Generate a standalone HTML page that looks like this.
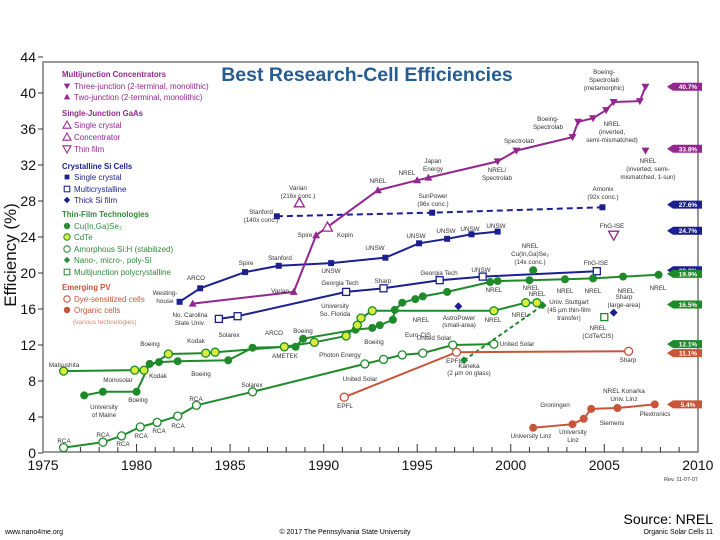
<!DOCTYPE html>
<html><head><meta charset="utf-8"><style>
html,body{margin:0;padding:0;background:#fff;}
svg{display:block;font-family:"Liberation Sans",sans-serif;}
</style></head><body>
<svg id="chart" width="720" height="540" viewBox="0 0 720 540" xmlns="http://www.w3.org/2000/svg">
<rect x="43" y="62" width="655" height="390" fill="#fff" stroke="#555" stroke-width="1.2"/>
<text x="367" y="81" text-anchor="middle" font-size="19.5" font-weight="bold" fill="#245d92">Best Research-Cell Efficiencies</text>
<text transform="translate(16,255) rotate(-90)" text-anchor="middle" font-size="17" fill="#111">Efficiency (%)</text>
<g id="axes"></g><g id="series"></g><g id="notes" font-size="6.3" fill="#333" text-anchor="middle"></g><g id="tags"></g>
<g font-size="8" id="legend"></g>
<text x="698" y="481" text-anchor="end" font-size="5.5" fill="#333">Rev. 11-07-07</text>
<text x="713" y="524" text-anchor="end" font-size="14" fill="#000">Source: NREL</text>
<text x="5" y="534" font-size="7" fill="#000">www.nano4me.org</text>
<text x="345" y="534" text-anchor="middle" font-size="7" fill="#000">© 2017 The Pennsylvania State University</text>
<text x="713" y="534" text-anchor="end" font-size="7" fill="#000">Organic Solar Cells 11</text>
</svg>
<script>
const yTicks=[0,4,8,12,16,20,24,28,32,36,40,44];
const xTicks=[1975,1980,1985,1990,1995,2000,2005,2010];
const mjYears=[1983.0,1988.4,1989.6,1992.9,1995.0,1995.6,1999.3,2000.3,2003.3,2003.6,2004.4,2005.1,2005.5,2006.9,2007.2];
const mjVals=[16.6,17.9,24.2,29.2,30.3,30.6,32.4,33.6,35.1,36.8,37.2,38.1,39.0,39.1,40.7];
const mjKinds=['tu','tu','tu','tu','tu','tu','td','td','td','td','td','td','td','td','td'];
const siYears=[1982.3,1983.4,1985.8,1987.6,1990.4,1993.3,1995.1,1996.6,1997.9,1999.3];
const siVals=[16.8,18.3,20.1,20.8,21.1,21.7,23.3,23.8,24.3,24.6];
const siConcYears=[1987.5,1995.8,2004.9];
const siConcVals=[26.3,26.7,27.3];
const mcYears=[1984.4,1985.4,1991.2,1993.2,1996.2,1998.5,2004.6];
const mcVals=[14.9,15.2,17.9,18.3,19.2,19.6,20.2];
const cigsYears=[1977.2,1978.2,1980.0,1980.7,1981.2,1982.2,1984.9,1986.2,1988.5,1988.9,1991.7,1992.6,1993.0,1993.7,1993.8,1994.2,1994.9,1995.3,1996.6,1998.9,1999.3,2001.0,2002.9,2004.4,2006.0,2007.9];
const cigsVals=[6.4,6.8,6.8,9.9,10.1,10.2,10.3,11.7,11.8,12.7,13.7,13.9,14.2,14.8,15.9,16.7,17.1,17.4,17.9,19.0,19.1,19.2,19.3,19.4,19.6,19.8];
const cdteYears=[1976.1,1979.9,1980.4,1981.7,1983.7,1984.2,1987.9,1989.5,1991.2,1991.8,1992.0,1992.6,1999.1,2000.8,2001.4];
const cdteVals=[9.1,9.2,9.2,11.0,11.1,11.2,11.8,12.3,13.0,14.2,15.0,15.8,15.8,16.7,16.7];
const asiYears=[1976.1,1978.2,1979.2,1980.2,1981.1,1982.2,1983.2,1986.2,1992.2,1993.2,1994.2,1995.3,1996.9,1999.1];
const asiVals=[0.6,1.2,1.9,2.9,3.4,4.1,5.3,6.8,9.9,10.4,10.9,11.1,12.0,12.1];
const siFilmYears=[1997.5,2001.7];
const siFilmVals=[10.3,16.4];
const dsscYears=[1991.1,1997.1,2006.3];
const dsscVals=[6.2,11.2,11.3];
const orgYears=[2001.2,2003.3,2003.9,2004.3,2005.7,2007.7];
const orgVals=[2.8,3.2,3.8,4.9,5.0,5.4];
const singleYears=[1988.7,1990.2,2005.5,1997.2,2005.5,2005.0,2001.2,2007.2];
const singleVals=[27.8,25.1,24.2,16.3,15.6,15.1,20.3,33.6];
const singleKinds=['tc','to','tdo','dm','dm','so','cf','td'];
const singleCols=['#93278f','#93278f','#93278f','#1b1f8f','#1b1f8f','#1e8a2a','#1e8a2a','#93278f'];
const tagVals=[40.7,33.8,27.6,24.7,20.3,19.9,16.5,12.1,11.1,5.4];
const tagLabels=['40.7%','33.8%','27.6%','24.7%','20.3%','19.9%','16.5%','12.1%','11.1%','5.4%'];
const tagCols=['#93278f','#93278f','#1b1f8f','#1b1f8f','#1b1f8f','#1e8a2a','#1e8a2a','#1e8a2a','#c8553a','#c8553a'];

const NS='http://www.w3.org/2000/svg';
const X=y=>43+(y-1975)*18.71;
const Y=v=>453-v*9;
function mk(tag,attrs,parent){const e=document.createElementNS(NS,tag);for(const k in attrs)e.setAttribute(k,attrs[k]);parent.appendChild(e);return e;}
const axes=document.getElementById('axes');
yTicks.forEach(t=>{
  const l=mk('line',{x1:38,x2:43,y1:Y(t),y2:Y(t),stroke:'#333'},axes);
  
  
  const tx=mk('text',{x:36,y:Y(t)+5,'text-anchor':'end','font-size':14,fill:'#111'},axes);
  tx.textContent=t;
  
  
});
for(let yr=1976;yr<2010;yr++){
  const l=mk('line',{x1:X(yr),x2:X(yr),y1:452,y2:yr%5===0?444:447,stroke:'#333'},axes);
  
  
}
xTicks.forEach(t=>{
  const tx=mk('text',{x:X(t),y:470,'text-anchor':'middle','font-size':14,fill:'#111'},axes);
  tx.textContent=t;
  
  
});
const S=document.getElementById('series');
function marker(kind,x,y,col,fill,g){
  let e;
  if(kind==='tu')e=mk('path',{d:`M${x},${y-4}L${x+4},${y+3}L${x-4},${y+3}Z`,fill:col},g);
  else if(kind==='td')e=mk('path',{d:`M${x},${y+4}L${x+4},${y-3}L${x-4},${y-3}Z`,fill:col},g);
  else if(kind==='tc'||kind==='to')e=mk('path',{d:`M${x},${y-5}L${x+5},${y+4}L${x-5},${y+4}Z`,fill:'#fff',stroke:col,'stroke-width':1.3},g);
  else if(kind==='tdo')e=mk('path',{d:`M${x},${y+5}L${x+5},${y-4}L${x-5},${y-4}Z`,fill:'#fff',stroke:col,'stroke-width':1.3},g);
  else if(kind==='sq')e=mk('rect',{x:x-3,y:y-3,width:6,height:6,fill:col},g);
  else if(kind==='so')e=mk('rect',{x:x-3.5,y:y-3.5,width:7,height:7,fill:'#fff',stroke:col,'stroke-width':1.3},g);
  else if(kind==='dm')e=mk('path',{d:`M${x},${y-4}L${x+4},${y}L${x},${y+4}L${x-4},${y}Z`,fill:col},g);
  else if(kind==='cf')e=mk('circle',{cx:x,cy:y,r:4,fill:col},g);
  else e=mk('circle',{cx:x,cy:y,r:4,fill:fill,stroke:col,'stroke-width':1.3},g);
  
  
}
function series(name,years,vals,col,kind,fill,dash){
  const g=mk('g',{},S);
  
  
  const p=mk('polyline',{points:years.map((y,i)=>X(y)+','+Y(vals[i])).join(' '),fill:'none',stroke:col,'stroke-width':2,'stroke-dasharray':dash||''},g);
  
  
  years.forEach((y,i)=>marker(Array.isArray(kind)?kind[i]:kind,X(y),Y(vals[i]),col,fill,g));
}
series('si-concentrator-series',siConcYears,siConcVals,'#1b1f8f','sq','', '6,4');
series('thick-si-film-series',siFilmYears,siFilmVals,'#1e8a2a','dm','','4,3');
series('amorphous-si-series',asiYears,asiVals,'#1e8a2a','c','#fff');
series('dssc-series',dsscYears,dsscVals,'#c8553a','c','#fff');
series('organic-series',orgYears,orgVals,'#c8553a','cf');
series('multicrystalline-si-series',mcYears,mcVals,'#1b1f8f','so');
series('single-crystal-si-series',siYears,siVals,'#1b1f8f','sq');
series('cigs-series',cigsYears,cigsVals,'#1e8a2a','cf');
series('cdte-series',cdteYears,cdteVals,'#1e8a2a','c','#d9ee3c');
series('multijunction-series',mjYears,mjVals,'#93278f',mjKinds);
singleYears.forEach((y,i)=>{
  const g=mk('g',{},S);
  
  
  marker(singleKinds[i],X(y),Y(singleVals[i]),singleCols[i],'#fff',g);
});
const T=document.getElementById('tags');
tagVals.forEach((v,i)=>{
  const y=Y(v);
  const g=mk('g',{},T);
  
  
  mk('path',{d:`M667,${y}L673,${y-4}L702,${y-4}L702,${y+4}L673,${y+4}Z`,fill:tagCols[i]},g);
  const t=mk('text',{x:688,y:y+2.5,'text-anchor':'middle','font-size':6.5,'font-weight':'bold',fill:'#fff'},g);
  t.textContent=tagLabels[i];
});
const notes=[["Varian",298,190],["(216x conc.)",298,198],["Stanford",261,214],["(140x conc.)",261,222],["Spire",305,237],["Kopin",345,237],["ARCO",196,280],["Spire",246,265],["Stanford",280,260],["UNSW",331,273],["Varian",280,293],["Westing-",165,295],["house",165,303],["No. Carolina",190,317],["State Univ.",190,325],["Solarex",229,337],["Georgia Tech",340,285],["NREL",378,183],["NREL",407,175],["Japan",433,163],["Energy",433,171],["NREL/",497,172],["Spectrolab",497,180],["Spectrolab",519,143],["Boeing-",548,121],["Spectrolab",548,129],["Boeing-",604,74],["Spectrolab",604,82],["(metamorphic)",604,90],["NREL",612,126],["(inverted,",612,134],["semi-mismatched)",612,142],["NREL",648,163],["(inverted, semi-",648,171],["mismatched, 1-sun)",648,179],["SunPower",433,198],["(96x conc.)",433,206],["Amonix",603,191],["(92x conc.)",603,199],["FhG-ISE",612,228],["UNSW",375,250],["UNSW",416,238],["UNSW",446,233],["UNSW",470,231],["UNSW",496,228],["NREL",530,248],["Cu(In,Ga)Se₂",530,256],["(14x conc.)",530,264],["FhG-ISE",596,265],["Sharp",383,283],["Georgia Tech",439,275],["UNSW",481,272],["NREL",494,292],["NREL",531,290],["NREL",565,293],["NREL",593,293],["NREL",626,293],["NREL",658,290],["Sharp",624,299],["(large-area)",624,307],["University",335,308],["So. Florida",335,316],["Boeing",150,346],["Kodak",196,343],["ARCO",274,335],["Boeing",303,333],["Matsushita",64,367],["Monosolar",118,382],["Kodak",158,378],["Boeing",201,376],["AMETEK",285,358],["Photon Energy",340,357],["Boeing",138,402],["University",104,409],["of Maine",104,417],["Solarex",252,387],["RCA",196,401],["RCA",64,443],["RCA",103,437],["RCA",123,446],["RCA",141,438],["RCA",159,433],["RCA",178,428],["EPFL",345,408],["United Solar",360,381],["NREL",421,322],["Euro-CIS",418,337],["Boeing",374,344],["AstroPower",459,320],["(small-area)",459,327],["NREL",493,322],["NREL",520,317],["NREL",537,296],["Univ. Stuttgart",569,304],["(45 µm thin-film",569,312],["transfer)",569,320],["NREL",598,330],["(CdTe/CIS)",598,338],["United Solar",434,340],["United Solar",517,346],["EPFL",454,363],["Kaneka",469,368],["(2 µm on glass)",469,375],["Sharp",628,362],["NREL Konarka",624,393],["Univ. Linz",624,401],["Groningen",555,407],["Siemens",612,425],["Plextronics",655,416],["University Linz",531,438],["University",573,434],["Linz",573,442]];
const N=document.getElementById('notes');
notes.forEach(n=>{const t=mk('text',{x:n[1],y:n[2]},N);t.textContent=n[0];
  
  });
const L=document.getElementById('legend');
const leg=[["Multijunction Concentrators",74,'#93278f',1,null],["Three-junction (2-terminal, monolithic)",86,'#93278f',0,'td'],["Two-junction (2-terminal, monolithic)",97,'#93278f',0,'tu'],["Single-Junction GaAs",113,'#93278f',1,null],["Single crystal",125,'#93278f',0,'to'],["Concentrator",137,'#93278f',0,'tc'],["Thin film",149,'#93278f',0,'tdo'],["Crystalline Si Cells",166,'#1b1f8f',1,null],["Single crystal",177,'#1b1f8f',0,'sq'],["Multicrystalline",189,'#1b1f8f',0,'so'],["Thick Si film",200,'#1b1f8f',0,'dm'],["Thin-Film Technologies",214,'#2e8a3a',1,null],["Cu(In,Ga)Se₂",226,'#2e8a3a',0,'cf'],["CdTe",237,'#2e8a3a',0,'cy'],["Amorphous Si:H (stabilized)",249,'#2e8a3a',0,'c'],["Nano-, micro-, poly-Si",260,'#2e8a3a',0,'dm'],["Multijunction polycrystalline",272,'#2e8a3a',0,'so'],["Emerging PV",287,'#c8553a',1,null],["Dye-sensitized cells",299,'#c8553a',0,'c'],["Organic cells",310,'#c8553a',0,'cf'],["(various technologies)",321,'#d08a70',2,null]];
leg.forEach(r=>{
  const g=mk('g',{},L);
  
  
  const tx=r[3]===0?74:(r[3]===2?73:62);
  const t=mk('text',{x:tx,y:r[1]+3,fill:r[2],'font-weight':r[3]===1?'bold':'normal','font-size':r[3]===2?6.5:(r[3]===1?7.8:8)},g);
  t.textContent=r[0];
  if(r[4]){const k=r[4]==='cy'?'c':r[4];marker(k,67,r[1],r[2],r[4]==='cy'?'#d9ee3c':'#fff',g);
    g.lastChild.setAttribute('transform',`translate(67,${r[1]}) scale(0.8) translate(-67,${-r[1]})`);}
});
</script>
</body></html>
